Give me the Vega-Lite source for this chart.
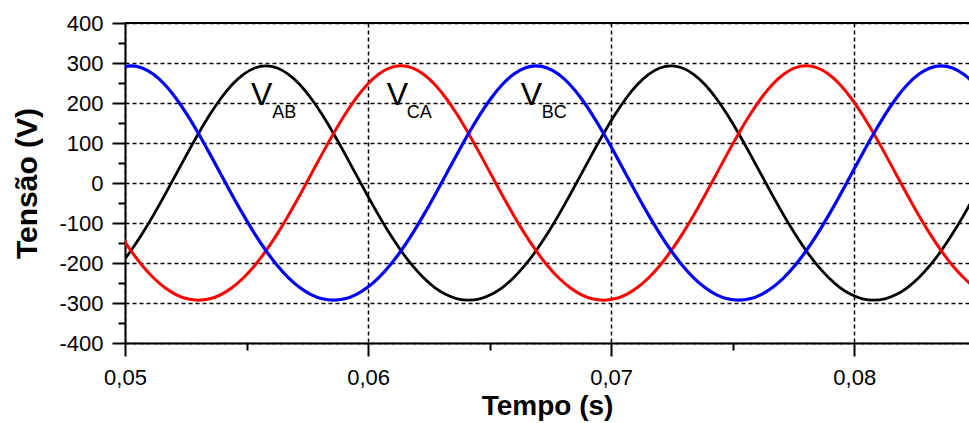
{
  "$schema": "https://vega.github.io/schema/vega-lite/v6.json",
  "width": 844,
  "height": 320,
  "autosize": {"type": "none"},
  "padding": {"left": 125, "top": 23, "right": 0, "bottom": 80},
  "background": "white",
  "config": {"view": {"stroke": null}, "font": "Liberation Sans"},
  "datasets": {
    "w": [
      {"t":0.049781,"AB":-206.2,"CA":-127.1,"BC":287.6},
      {"t":0.050244,"AB":-169.3,"CA":-169.3,"BC":293},
      {"t":0.050707,"AB":-127.1,"CA":-206.2,"BC":287.6},
      {"t":0.051170,"AB":-80.4,"CA":-237,"BC":271.8},
      {"t":0.051633,"AB":-30.4,"CA":-261.4,"BC":246.2},
      {"t":0.052096,"AB":21.4,"CA":-278.9,"BC":211.9},
      {"t":0.052559,"AB":73.4,"CA":-289.5,"BC":170.5},
      {"t":0.053022,"AB":123.7,"CA":-293,"BC":123.7},
      {"t":0.053485,"AB":170.5,"CA":-289.5,"BC":73.4},
      {"t":0.053948,"AB":211.9,"CA":-278.9,"BC":21.4},
      {"t":0.054411,"AB":246.2,"CA":-261.4,"BC":-30.4},
      {"t":0.054874,"AB":271.8,"CA":-237,"BC":-80.4},
      {"t":0.055337,"AB":287.6,"CA":-206.2,"BC":-127.1},
      {"t":0.055800,"AB":293,"CA":-169.3,"BC":-169.3},
      {"t":0.056263,"AB":287.6,"CA":-127.1,"BC":-206.2},
      {"t":0.056726,"AB":271.8,"CA":-80.4,"BC":-237},
      {"t":0.057189,"AB":246.2,"CA":-30.4,"BC":-261.4},
      {"t":0.057652,"AB":211.9,"CA":21.4,"BC":-278.9},
      {"t":0.058115,"AB":170.5,"CA":73.4,"BC":-289.5},
      {"t":0.058578,"AB":123.7,"CA":123.7,"BC":-293},
      {"t":0.059041,"AB":73.4,"CA":170.5,"BC":-289.5},
      {"t":0.059504,"AB":21.4,"CA":211.9,"BC":-278.9},
      {"t":0.059967,"AB":-30.4,"CA":246.2,"BC":-261.4},
      {"t":0.060430,"AB":-80.4,"CA":271.8,"BC":-237},
      {"t":0.060893,"AB":-127.1,"CA":287.6,"BC":-206.2},
      {"t":0.061356,"AB":-169.3,"CA":293,"BC":-169.3},
      {"t":0.061819,"AB":-206.2,"CA":287.6,"BC":-127.1},
      {"t":0.062281,"AB":-237,"CA":271.8,"BC":-80.4},
      {"t":0.062744,"AB":-261.4,"CA":246.2,"BC":-30.4},
      {"t":0.063207,"AB":-278.9,"CA":211.9,"BC":21.4},
      {"t":0.063670,"AB":-289.5,"CA":170.5,"BC":73.4},
      {"t":0.064133,"AB":-293,"CA":123.7,"BC":123.7},
      {"t":0.064596,"AB":-289.5,"CA":73.4,"BC":170.5},
      {"t":0.065059,"AB":-278.9,"CA":21.4,"BC":211.9},
      {"t":0.065522,"AB":-261.4,"CA":-30.4,"BC":246.2},
      {"t":0.065985,"AB":-237,"CA":-80.4,"BC":271.8},
      {"t":0.066448,"AB":-206.2,"CA":-127.1,"BC":287.6},
      {"t":0.066911,"AB":-169.3,"CA":-169.3,"BC":293},
      {"t":0.067374,"AB":-127.1,"CA":-206.2,"BC":287.6},
      {"t":0.067837,"AB":-80.4,"CA":-237,"BC":271.8},
      {"t":0.068300,"AB":-30.4,"CA":-261.4,"BC":246.2},
      {"t":0.068763,"AB":21.4,"CA":-278.9,"BC":211.9},
      {"t":0.069226,"AB":73.4,"CA":-289.5,"BC":170.5},
      {"t":0.069689,"AB":123.7,"CA":-293,"BC":123.7},
      {"t":0.070152,"AB":170.5,"CA":-289.5,"BC":73.4},
      {"t":0.070615,"AB":211.9,"CA":-278.9,"BC":21.4},
      {"t":0.071078,"AB":246.2,"CA":-261.4,"BC":-30.4},
      {"t":0.071541,"AB":271.8,"CA":-237,"BC":-80.4},
      {"t":0.072004,"AB":287.6,"CA":-206.2,"BC":-127.1},
      {"t":0.072467,"AB":293,"CA":-169.3,"BC":-169.3},
      {"t":0.072930,"AB":287.6,"CA":-127.1,"BC":-206.2},
      {"t":0.073393,"AB":271.8,"CA":-80.4,"BC":-237},
      {"t":0.073856,"AB":246.2,"CA":-30.4,"BC":-261.4},
      {"t":0.074319,"AB":211.9,"CA":21.4,"BC":-278.9},
      {"t":0.074781,"AB":170.5,"CA":73.4,"BC":-289.5},
      {"t":0.075244,"AB":123.7,"CA":123.7,"BC":-293},
      {"t":0.075707,"AB":73.4,"CA":170.5,"BC":-289.5},
      {"t":0.076170,"AB":21.4,"CA":211.9,"BC":-278.9},
      {"t":0.076633,"AB":-30.4,"CA":246.2,"BC":-261.4},
      {"t":0.077096,"AB":-80.4,"CA":271.8,"BC":-237},
      {"t":0.077559,"AB":-127.1,"CA":287.6,"BC":-206.2},
      {"t":0.078022,"AB":-169.3,"CA":293,"BC":-169.3},
      {"t":0.078485,"AB":-206.2,"CA":287.6,"BC":-127.1},
      {"t":0.078948,"AB":-237,"CA":271.8,"BC":-80.4},
      {"t":0.079411,"AB":-261.4,"CA":246.2,"BC":-30.4},
      {"t":0.079874,"AB":-278.9,"CA":211.9,"BC":21.4},
      {"t":0.080337,"AB":-289.5,"CA":170.5,"BC":73.4},
      {"t":0.080800,"AB":-293,"CA":123.7,"BC":123.7},
      {"t":0.081263,"AB":-289.5,"CA":73.4,"BC":170.5},
      {"t":0.081726,"AB":-278.9,"CA":21.4,"BC":211.9},
      {"t":0.082189,"AB":-261.4,"CA":-30.4,"BC":246.2},
      {"t":0.082652,"AB":-237,"CA":-80.4,"BC":271.8},
      {"t":0.083115,"AB":-206.2,"CA":-127.1,"BC":287.6},
      {"t":0.083578,"AB":-169.3,"CA":-169.3,"BC":293},
      {"t":0.084041,"AB":-127.1,"CA":-206.2,"BC":287.6},
      {"t":0.084504,"AB":-80.4,"CA":-237,"BC":271.8},
      {"t":0.084967,"AB":-30.4,"CA":-261.4,"BC":246.2},
      {"t":0.085430,"AB":21.4,"CA":-278.9,"BC":211.9}
    ],
    "lab": [
      {"t":0.05518,"v":195,"txt":"V","kind":"main"},
      {"t":0.05606,"v":162,"txt":"AB","kind":"sub"},
      {"t":0.06077,"v":195,"txt":"V","kind":"main"},
      {"t":0.06159,"v":162,"txt":"CA","kind":"sub"},
      {"t":0.06628,"v":195,"txt":"V","kind":"main"},
      {"t":0.06714,"v":162,"txt":"BC","kind":"sub"}
    ]
  },
  "resolve": {"axis": {"x": "independent", "y": "independent"}},
  "layer": [
    {
      "data": {"name": "w"},
      "mark": {"type": "line", "color": "black", "strokeWidth": 2.8, "clip": true, "interpolate": "natural"},
      "encoding": {
        "x": {
          "field": "t", "type": "quantitative",
          "scale": {"domain": [0.05, 0.08472], "nice": false, "zero": false},
          "axis": {
            "orient": "bottom",
            "values": [0.05, 0.06, 0.07, 0.08],
            "title": "Tempo (s)",
            "titleFontSize": 28, "titleFontWeight": "bold", "titleColor": "black", "titlePadding": 4,
            "labelExpr": "replace(format(datum.value, '.2f'), '.', ',')",
            "labelFontSize": 22, "labelColor": "black", "labelPadding": 11, "labelFlush": false,
            "tickSize": 13, "tickColor": "black", "tickWidth": 2,
            "domainColor": "black", "domainWidth": 2,
            "grid": true, "gridColor": "black", "gridDash": [4, 3], "gridWidth": 1.5
          }
        },
        "y": {
          "field": "AB", "type": "quantitative",
          "scale": {"domain": [-400, 400], "nice": false, "zero": false},
          "axis": {
            "orient": "left",
            "values": [-400, -300, -200, -100, 0, 100, 200, 300, 400],
            "title": "Tensão (V)",
            "titleFontSize": 30, "titleFontWeight": "bold", "titleColor": "black", "titlePadding": 16,
            "labelExpr": "datum.value < 0 ? '-' + abs(datum.value) : '' + datum.value",
            "labelFontSize": 22, "labelColor": "black", "labelPadding": 9, "labelFlush": false,
            "tickSize": 13, "tickColor": "black", "tickWidth": 2,
            "domainColor": "black", "domainWidth": 2,
            "grid": true, "gridColor": "black", "gridDash": [4, 3], "gridWidth": 1.5
          }
        }
      }
    },
    {
      "data": {"name": "w"},
      "mark": {"type": "line", "color": "#ff0000", "strokeWidth": 3, "clip": true, "interpolate": "natural"},
      "encoding": {
        "x": {
          "field": "t", "type": "quantitative",
          "axis": {
            "orient": "bottom", "values": [0.055, 0.065, 0.075, 0.085], "title": null,
            "labels": false, "domain": false, "grid": false,
            "tickSize": 7, "tickColor": "black", "tickWidth": 2
          }
        },
        "y": {
          "field": "CA", "type": "quantitative",
          "axis": {
            "orient": "left", "values": [-350, -250, -150, -50, 50, 150, 250, 350], "title": null,
            "labels": false, "domain": false, "grid": false,
            "tickSize": 7, "tickColor": "black", "tickWidth": 2
          }
        }
      }
    },
    {
      "data": {"name": "w"},
      "mark": {"type": "line", "color": "#0000ff", "strokeWidth": 3.2, "clip": true, "interpolate": "natural"},
      "encoding": {
        "x": {"field": "t", "type": "quantitative", "axis": null},
        "y": {"field": "BC", "type": "quantitative", "axis": null}
      }
    },
    {
      "data": {"values": [{}]},
      "mark": {"type": "rule", "color": "black", "strokeWidth": 2},
      "encoding": {"y": {"datum": 400, "type": "quantitative", "axis": null}}
    },
    {
      "data": {"name": "lab"},
      "transform": [{"filter": "datum.kind === 'main'"}],
      "mark": {"type": "text", "align": "left", "baseline": "alphabetic", "fontSize": 32, "color": "black"},
      "encoding": {
        "x": {"field": "t", "type": "quantitative", "axis": null},
        "y": {"field": "v", "type": "quantitative", "axis": null},
        "text": {"field": "txt"}
      }
    },
    {
      "data": {"name": "lab"},
      "transform": [{"filter": "datum.kind === 'sub'"}],
      "mark": {"type": "text", "align": "left", "baseline": "alphabetic", "fontSize": 18, "color": "black"},
      "encoding": {
        "x": {"field": "t", "type": "quantitative", "axis": null},
        "y": {"field": "v", "type": "quantitative", "axis": null},
        "text": {"field": "txt"}
      }
    }
  ]
}
